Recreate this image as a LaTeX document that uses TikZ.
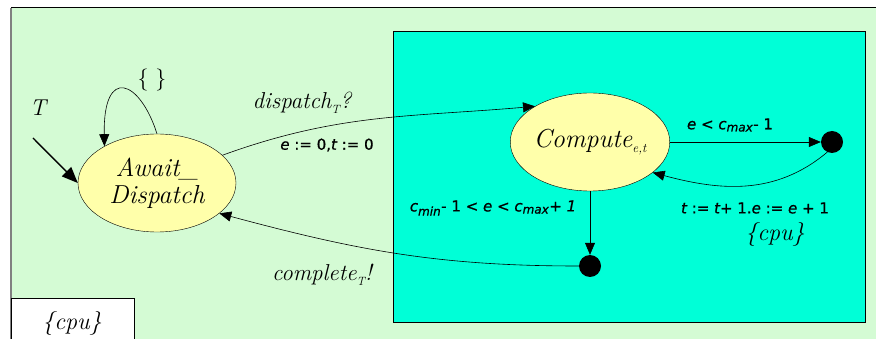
\documentclass[tikz,border=0pt]{standalone}
\usepackage{fontspec}
\usetikzlibrary{shapes.geometric,arrows.meta}
\newfontfamily\labfont[FakeBold=0.8]{DejaVu Sans}
\definecolor{bggreen}{RGB}{212,251,212}
\definecolor{cyanbox}{RGB}{0,255,215}
\definecolor{stateyel}{RGB}{255,255,170}
\begin{document}
\begin{tikzpicture}[x=1pt,y=-1pt,
 state/.style={ellipse,draw,fill=stateyel,minimum width=158pt,minimum height=98pt,inner sep=0pt,font=\fontsize{26}{27}\selectfont\itshape,align=center},
 dot/.style={circle,fill=black,inner sep=0pt,minimum size=22pt},
 arr/.style={-{Triangle[length=12pt,width=10pt]},line width=0.6pt},
 lab/.style={font=\fontsize{23}{26}\selectfont\itshape,inner sep=0pt},
 guard/.style={font=\labfont\fontsize{15}{17}\selectfont,inner sep=0pt}]
\useasboundingbox (0,0) rectangle (876,339);
\fill[bggreen] (11,8) rectangle (876,339);
\draw[black,line width=1pt] (11,8) -- (876,8);
\draw[gray,line width=1.2pt] (11,8) -- (11,339);
\draw[fill=cyanbox,line width=0.8pt] (393,31) rectangle (865,322);
\node[state] (await) at (157,183) {Await\_\\Dispatch};
\node[state] (compute) at (590,142) {Compute\raisebox{-5pt}{\fontsize{13}{14}\selectfont\itshape e,t}};
\node[dot] (rdot) at (832,142) {};
\node[dot] (bdot) at (590,266) {};
\coordinate (init) at (33,138);
\node[lab] (tlab) at (38,108) {T};
\node[lab,font=\fontsize{22}{24}\selectfont] (looplab) at (152,80) {\{ \}};
\node[lab] (displab) at (302,103) {dispatch\raisebox{-5pt}{\fontsize{12}{13}\selectfont T}?};
\node[guard] (resetlab) at (327,145) {\itshape e\upshape{} := 0,\itshape t\upshape{} := 0};
\node[guard] (ltlab) at (730,125) {\itshape e\upshape{} < \itshape c\textsubscript{\fontsize{12}{13}\selectfont max}\upshape- 1};
\node[guard] (inclab) at (755,208) {\itshape t\upshape{} := \itshape t\upshape+ 1.\itshape e\upshape{} := \itshape e\upshape{} + 1};
\node[lab,font=\fontsize{24}{26}\selectfont\itshape] (cpulab) at (775,235) {\{cpu\}};
\node[guard] (rangelab) at (493,208) {\itshape c\textsubscript{\fontsize{12}{13}\selectfont min}\upshape- 1 < \itshape e\upshape{} < \itshape c\textsubscript{\fontsize{12}{13}\selectfont max}\upshape+ \itshape 1};
\node[lab] (complab) at (322,275) {complete\raisebox{-5pt}{\fontsize{12}{13}\selectfont T}!};
\draw[fill=white,line width=0.8pt] (11,298) rectangle (134,345);
\node[lab,font=\fontsize{24}{26}\selectfont\itshape] (cpubox) at (72,323) {\{cpu\}};
\draw[-{Triangle[length=16pt,width=13pt]},line width=1.4pt] (init) -- (await.180);
\draw[arr] (await.90) .. controls (140,80) and (103,65) .. (await.145);
\draw[arr] (await.23) to[out=20,in=185] (compute.147);
\draw[arr] (compute.east) -- (rdot);
\draw[arr] (rdot.-115) to[out=-140,in=-15] (compute.-26);
\draw[arr] (compute.south) -- (bdot);
\draw[arr] (bdot.west) to[out=180,in=-15] (await.-26);
\end{tikzpicture}
\end{document}
